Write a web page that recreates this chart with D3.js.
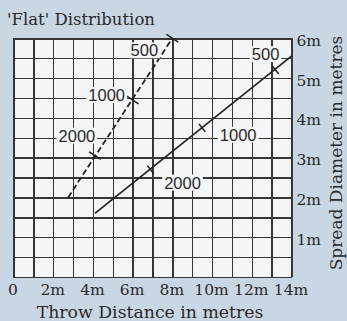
<!DOCTYPE html>
<html>
<head>
<meta charset="utf-8">
<script src="https://cdn.jsdelivr.net/npm/d3@7"></script>
<style>
  html, body { margin: 0; padding: 0; background: #c9d6e4; }
  svg { display: block; }
  .grid line, .grid path { stroke: #363636; stroke-width: 1.5; shape-rendering: crispEdges; }
  .ticklab text { font-family: "DejaVu Serif", serif; font-size: 15.5px; fill: #2a2a2a; }
  .ticklab path, .ticklab line { display: none; }
  .rate { font-family: "Liberation Sans", Arial, sans-serif; font-size: 16.5px; fill: #2a2a2a; }
</style>
</head>
<body>
<div id="chart"></div>
<script>
var svgWidth = 347;
var svgHeight = 321;

// grid and tick values
var gridX = d3.range(0, 15, 1);
var gridY = d3.range(0, 6.01, 0.5);
var xTickValues = [0, 2, 4, 6, 8, 10, 12, 14];
var xTickLabels = ["0", "2m", "4m", "6m", "8m", "10m", "12m", "14m"];
var yTickValues = [1, 2, 3, 4, 5, 6];
var yTickLabels = ["1m", "2m", "3m", "4m", "5m", "6m"];

// the two lines (throw distance, spread diameter)
var dashedX = [2.75, 8];
var dashedY = [2, 6];
var solidX = [4.1, 14];
var solidY = [1.6, 5.55];

// rate marks along each line
var dashedRates = ["500", "1000", "2000"];
var dashedMarkX = [8, 6, 4.1];
var dashedMarkY = [6, 4.45, 3.05];
var solidRates = ["500", "1000", "2000"];
var solidMarkX = [13.2, 9.5, 6.9];
var solidMarkY = [5.2, 3.75, 2.7];

var x = d3.scaleLinear().domain([0, 14]).range([13.5, 291.5]);
var y = d3.scaleLinear().domain([0, 6]).range([277, 38.3]);

var svg = d3.select("#chart")
  .append("svg")
  .attr("width", svgWidth)
  .attr("height", svgHeight);

// plot background
svg.append("rect")
  .attr("x", x(0))
  .attr("y", y(6))
  .attr("width", x(14) - x(0))
  .attr("height", y(0) - y(6))
  .attr("fill", "#f4f5f7");

// grid lines
svg.append("g")
  .attr("class", "grid")
  .attr("transform", `translate(0, ${y(0)})`)
  .call(d3.axisBottom(x).tickValues(gridX).tickSize(-(y(0) - y(6))).tickSizeOuter(0).tickFormat(""));

svg.append("g")
  .attr("class", "grid")
  .attr("transform", `translate(${x(0)}, 0)`)
  .call(d3.axisLeft(y).tickValues(gridY).tickSize(-(x(14) - x(0))).tickSizeOuter(0).tickFormat(""));

// tick labels
var bottomAxis = d3.axisBottom(x)
  .tickValues(xTickValues)
  .tickSize(0)
  .tickPadding(7)
  .tickFormat((d, i) => xTickLabels[i]);

svg.append("g")
  .attr("class", "ticklab")
  .attr("transform", `translate(-1, ${y(0)})`)
  .call(bottomAxis);

var rightAxis = d3.axisRight(y)
  .tickValues(yTickValues)
  .tickSize(0)
  .tickPadding(5)
  .tickFormat((d, i) => yTickLabels[i]);

svg.append("g")
  .attr("class", "ticklab")
  .attr("transform", `translate(${x(14)}, 2)`)
  .call(rightAxis);

// titles
svg.append("text")
  .attr("x", 7)
  .attr("y", 25)
  .attr("font-family", "DejaVu Serif, serif")
  .attr("font-size", "16.5px")
  .attr("fill", "#2a2a2a")
  .text("'Flat' Distribution");

svg.append("text")
  .attr("x", 150)
  .attr("y", 318)
  .attr("text-anchor", "middle")
  .attr("font-family", "DejaVu Serif, serif")
  .attr("font-size", "17.3px")
  .attr("fill", "#2a2a2a")
  .text("Throw Distance in metres");

svg.append("text")
  .attr("transform", "translate(342, 153) rotate(-90)")
  .attr("text-anchor", "middle")
  .attr("font-family", "DejaVu Serif, serif")
  .attr("font-size", "17px")
  .attr("fill", "#2a2a2a")
  .text("Spread Diameter in metres");

// lines
var line = d3.line().x(d => x(d[0])).y(d => y(d[1]));

svg.append("path")
  .datum(d3.zip(dashedX, dashedY))
  .attr("d", line)
  .attr("fill", "none")
  .attr("stroke", "#222")
  .attr("stroke-width", 1.8)
  .attr("stroke-dasharray", "6,3");

svg.append("path")
  .datum(d3.zip(solidX, solidY))
  .attr("d", line)
  .attr("fill", "none")
  .attr("stroke", "#222")
  .attr("stroke-width", 1.7);

// rate marks: a short cross-stroke on the line plus a boxed label
function drawMarks(lx, ly, mx, my, rates, offsets, half) {
  var dxp = x(lx[1]) - x(lx[0]);
  var dyp = y(ly[1]) - y(ly[0]);
  var len = Math.sqrt(dxp * dxp + dyp * dyp);
  var nx = -dyp / len;
  var ny = dxp / len;

  rates.forEach(function(r, i) {
    var px = x(mx[i]);
    var py = y(my[i]);
    svg.append("line")
      .attr("x1", px - nx * half)
      .attr("y1", py - ny * half)
      .attr("x2", px + nx * half)
      .attr("y2", py + ny * half)
      .attr("stroke", "#222")
      .attr("stroke-width", 1.5);

    var tx = px + offsets[i][0];
    var ty = py + offsets[i][1];
    var t = svg.append("text")
      .attr("class", "rate")
      .attr("x", tx)
      .attr("y", ty)
      .attr("text-anchor", "middle")
      .attr("dominant-baseline", "central")
      .text(r);
    var bb = t.node().getBBox();
    svg.insert("rect", function() { return t.node(); })
      .attr("x", bb.x - 2)
      .attr("y", bb.y + 1)
      .attr("width", bb.width + 4)
      .attr("height", bb.height - 2)
      .attr("fill", "#f4f5f7");
  });
}

drawMarks(dashedX, dashedY, dashedMarkX, dashedMarkY, dashedRates,
  [[-28, 12], [-26, -5], [-18, -20]], 7);
drawMarks(solidX, solidY, solidMarkX, solidMarkY, solidRates,
  [[-10, -16], [36, 7], [32, 13]], 5);
</script>
</body>
</html>
